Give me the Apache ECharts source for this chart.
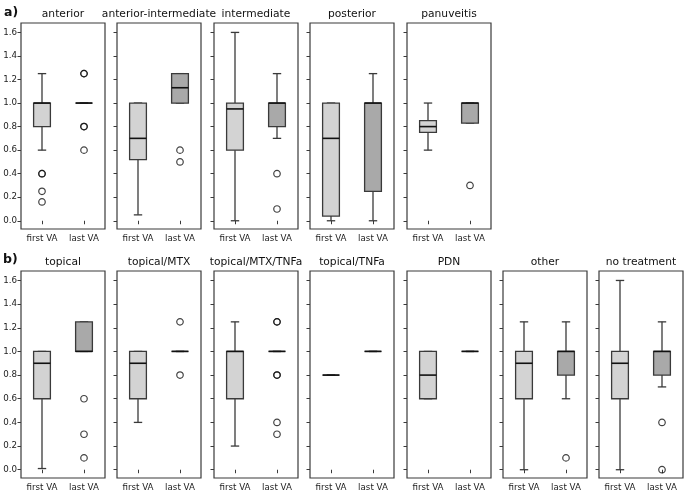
<!DOCTYPE html>
<html><head><meta charset="utf-8">
<script src="https://cdn.jsdelivr.net/npm/echarts@6/dist/echarts.min.js"></script>
<style>html,body{margin:0;padding:0;background:#fff}#c{width:685px;height:493px}</style>
</head><body><div id="c"></div>
<script>
// ---- data: [low whisker, Q1, median, Q3, high whisker] ----
const categories = ['first VA', 'last VA'];
const yTicks = [0.0, 0.2, 0.4, 0.6, 0.8, 1.0, 1.2, 1.4, 1.6];

const titlesA = ['anterior', 'anterior-intermediate', 'intermediate', 'posterior', 'panuveitis'];
const firstA = [
  [0.6, 0.8, 1.0, 1.0, 1.25],
  [0.05, 0.52, 0.7, 1.0, 1.0],
  [0.0, 0.6, 0.95, 1.0, 1.6],
  [0.0, 0.04, 0.7, 1.0, 1.0],
  [0.6, 0.75, 0.8, 0.85, 1.0]
];
const lastA = [
  [1.0, 1.0, 1.0, 1.0, 1.0],
  [1.0, 1.0, 1.13, 1.25, 1.25],
  [0.7, 0.8, 1.0, 1.0, 1.25],
  [0.0, 0.25, 1.0, 1.0, 1.25],
  [0.83, 0.83, 1.0, 1.0, 1.0]
];
const outFirstA = [[0.4, 0.4, 0.25, 0.16], [], [], [], []];
const outLastA = [[1.25, 1.25, 0.8, 0.8, 0.6], [0.6, 0.5], [0.4, 0.1], [], [0.3]];

const titlesB = ['topical', 'topical/MTX', 'topical/MTX/TNFa', 'topical/TNFa', 'PDN', 'other', 'no treatment'];
const firstB = [
  [0.01, 0.6, 0.9, 1.0, 1.0],
  [0.4, 0.6, 0.9, 1.0, 1.0],
  [0.2, 0.6, 1.0, 1.0, 1.25],
  [0.8, 0.8, 0.8, 0.8, 0.8],
  [0.6, 0.6, 0.8, 1.0, 1.0],
  [0.0, 0.6, 0.9, 1.0, 1.25],
  [0.0, 0.6, 0.9, 1.0, 1.6]
];
const lastB = [
  [1.0, 1.0, 1.0, 1.25, 1.25],
  [1.0, 1.0, 1.0, 1.0, 1.0],
  [1.0, 1.0, 1.0, 1.0, 1.0],
  [1.0, 1.0, 1.0, 1.0, 1.0],
  [1.0, 1.0, 1.0, 1.0, 1.0],
  [0.6, 0.8, 1.0, 1.0, 1.25],
  [0.7, 0.8, 1.0, 1.0, 1.25]
];
const outFirstB = [[], [], [], [], [], [], []];
const outLastB = [[0.6, 0.3, 0.1], [1.25, 0.8], [1.25, 1.25, 0.8, 0.8, 0.4, 0.3], [], [], [0.1], [0.4, 0.0]];

// ---- layout ----
const FONT = 'DejaVu Sans';
const lefts = [21, 117, 214, 310, 407, 503, 599];
const PW = 84;
const rows = [
  {titles: titlesA, first: firstA, last: lastA, oF: outFirstA, oL: outLastA, top: 23, h: 206, titleY: 14, tag: 'a)', tagX: 4, tagY: 14},
  {titles: titlesB, first: firstB, last: lastB, oF: outFirstB, oL: outLastB, top: 271, h: 207, titleY: 262, tag: 'b)', tagX: 3, tagY: 261}
];
const fills = ['#d3d3d3', '#a9a9a9'];
const EDGE = '#3a3a3a';

const grid = [], xAxis = [], yAxis = [], series = [], graphic = [];

function renderBox(params, api) {
  const xi = api.value(0);
  const pL = api.coord([xi, api.value(1)]);
  const p1 = api.coord([xi, api.value(2)]);
  const pM = api.coord([xi, api.value(3)]);
  const p3 = api.coord([xi, api.value(4)]);
  const pH = api.coord([xi, api.value(5)]);
  const band = api.size([1, 0])[0];
  const bw = band * 0.4, cw = bw / 2;
  const x = pL[0];
  const ws = {stroke: EDGE, lineWidth: 1.3};
  return {
    type: 'group',
    children: [
      {type: 'line', shape: {x1: x, y1: p1[1], x2: x, y2: pL[1]}, style: ws},
      {type: 'line', shape: {x1: x, y1: p3[1], x2: x, y2: pH[1]}, style: ws},
      {type: 'line', shape: {x1: x - cw / 2, y1: pL[1], x2: x + cw / 2, y2: pL[1]}, style: ws},
      {type: 'line', shape: {x1: x - cw / 2, y1: pH[1], x2: x + cw / 2, y2: pH[1]}, style: ws},
      {type: 'rect', shape: {x: x - bw / 2, y: p3[1], width: bw, height: p1[1] - p3[1]},
        style: {fill: fills[xi], stroke: EDGE, lineWidth: 1.3}},
      {type: 'line', shape: {x1: x - bw / 2, y1: pM[1], x2: x + bw / 2, y2: pM[1]},
        style: {stroke: '#111', lineWidth: 1.6}}
    ]
  };
}

let gi = 0;
rows.forEach((row) => {
  graphic.push({type: 'text', left: row.tagX, top: row.tagY - 8,
    style: {text: row.tag, font: 'bold 12.5px "' + FONT + '"', fill: '#111'}});
  row.titles.forEach((t, i) => {
    const left = lefts[i];
    grid.push({left: left, top: row.top, width: PW, height: row.h, show: true,
      borderColor: EDGE, borderWidth: 1.2, backgroundColor: '#fff', containLabel: false});
    xAxis.push({gridIndex: gi, type: 'category', data: categories, boundaryGap: true,
      axisLine: {show: false},
      axisTick: {show: true, alignWithLabel: true, length: 3.5, lineStyle: {color: EDGE}},
      axisLabel: {show: true, fontFamily: FONT, fontSize: 8.7, color: '#222', margin: 5, interval: 0},
      splitLine: {show: false}});
    yAxis.push({gridIndex: gi, type: 'value', min: -0.07, max: 1.68,
      axisLine: {show: false},
      axisTick: {show: true, length: 3.5, lineStyle: {color: EDGE}, customValues: yTicks},
      axisLabel: {show: i === 0, fontFamily: FONT, fontSize: 8.7, color: '#222', margin: 4,
        customValues: yTicks, formatter: (v) => Number(v).toFixed(1)},
      splitLine: {show: false}});
    const boxData = [[0].concat(row.first[i]), [1].concat(row.last[i])];
    series.push({type: 'custom', xAxisIndex: gi, yAxisIndex: gi, renderItem: renderBox,
      encode: {x: 0, y: [1, 2, 3, 4, 5]}, data: boxData, silent: true, z: 2});
    const pts = row.oF[i].map(v => [0, v]).concat(row.oL[i].map(v => [1, v]));
    series.push({type: 'scatter', xAxisIndex: gi, yAxisIndex: gi, data: pts, symbol: 'circle',
      symbolSize: 6.5, silent: true, z: 3,
      itemStyle: {color: 'rgba(0,0,0,0)', borderColor: '#111', borderWidth: 1.2}});
    graphic.push({type: 'text', x: left + PW / 2, y: row.titleY,
      style: {text: t, font: '10.7px "' + FONT + '"', fill: '#111', align: 'center', verticalAlign: 'middle'}});
    gi++;
  });
});

const chart = echarts.init(document.getElementById('c'), null, {renderer: 'canvas'});
chart.setOption({animation: false, backgroundColor: '#fff', grid, xAxis, yAxis, series, graphic});
</script></body></html>
